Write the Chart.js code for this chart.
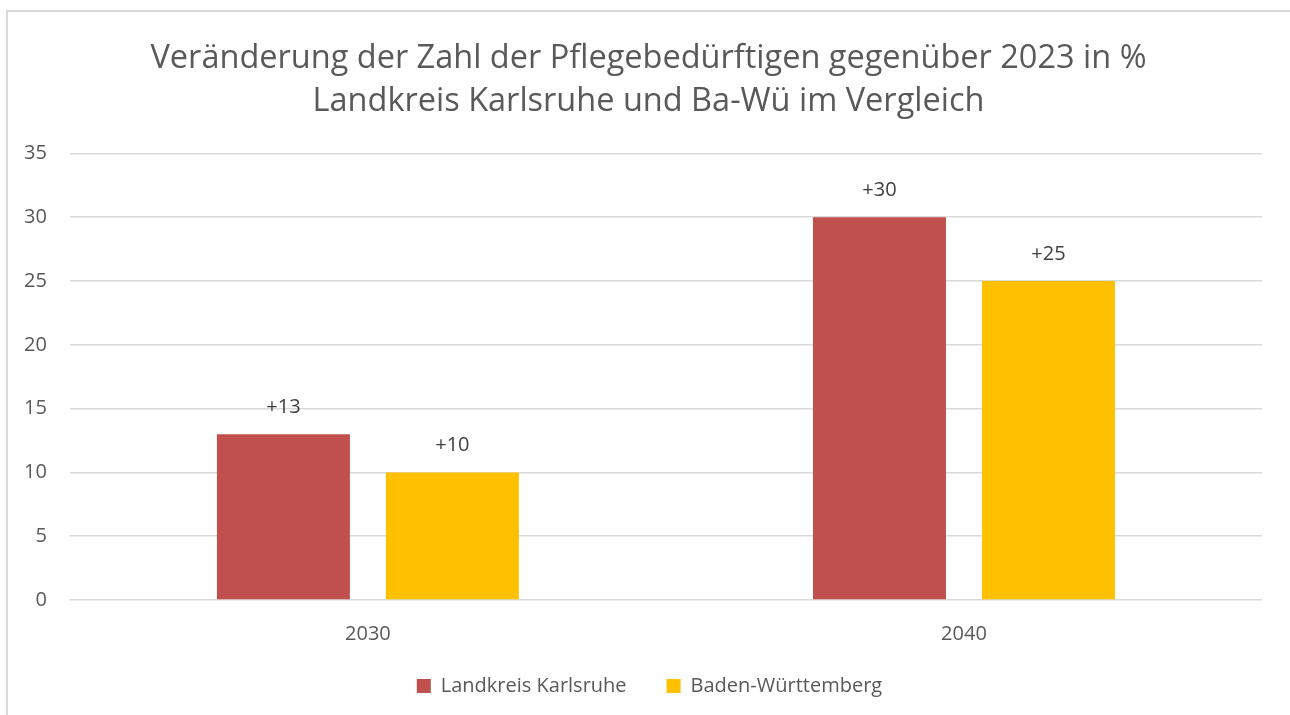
<!DOCTYPE html>
<html>
<head>
<meta charset="utf-8">
<script src="https://cdn.jsdelivr.net/npm/chart.js@4.4.0/dist/chart.umd.min.js"></script>
<style>
  html, body { margin: 0; padding: 0; background: #fff; }
  .frame {
    position: absolute; left: 6px; top: 10px; width: 1300px; height: 720px;
    border-left: 2px solid #d9d9d9; border-top: 2px solid #d9d9d9;
  }
  .wrap { position: absolute; left: 0; top: 0; width: 1290px; height: 715px; }
</style>
</head>
<body>
<div class="frame"></div>
<div class="wrap"><canvas id="pflegeChart" width="1290" height="715"></canvas></div>
<script>
// Daten
const years = ['2030', '2040'];
const karlsruhe = [13, 30];
const bawue = [10, 25];
const titleLines = [
  'Veränderung der Zahl der Pflegebedürftigen gegenüber 2023 in %',
  'Landkreis Karlsruhe und Ba-Wü im Vergleich'
];

const fontFam = '"Open Sans", "Noto Sans", sans-serif';

// Werte über den Balken
const valueLabels = {
  id: 'valueLabels',
  afterDatasetsDraw(chart) {
    const ctx = chart.ctx;
    ctx.save();
    ctx.font = '20px ' + fontFam;
    ctx.fillStyle = '#404040';
    ctx.textAlign = 'center';
    ctx.textBaseline = 'middle';
    chart.data.datasets.forEach((ds, i) => {
      chart.getDatasetMeta(i).data.forEach((bar, j) => {
        ctx.fillText('+' + ds.data[j], bar.x, bar.y - 27);
      });
    });
    ctx.restore();
  }
};

// Titel und Legende auf die ganze Breite zentrieren,
// x-Achse unten wieder freigeben (sonst werden die Jahreszahlen abgeschnitten)
const layoutFix = {
  id: 'layoutFix',
  afterLayout(chart) {
    const t = chart.titleBlock;
    if (t) { t.left += 17; t.right += 17; }
    const l = chart.legend;
    if (l) { l.left += 18; l.right += 18; }
    chart.scales.x.bottom += 28;
  }
};

const chartCtx = document.getElementById('pflegeChart').getContext('2d');
new Chart(chartCtx, {
  type: 'bar',
  data: {
    labels: years,
    datasets: [
      { label: 'Landkreis Karlsruhe', data: karlsruhe, backgroundColor: '#c0504d' },
      { label: 'Baden-Württemberg', data: bawue, backgroundColor: '#ffc000' }
    ]
  },
  options: {
    responsive: false,
    animation: false,
    layout: { padding: { left: 1, right: 28, top: 33, bottom: 9 } },
    datasets: { bar: { categoryPercentage: 0.567, barPercentage: 0.787 } },
    plugins: {
      title: {
        display: true,
        text: titleLines,
        color: '#595959',
        font: { family: fontFam, size: 32.5, weight: 'normal', lineHeight: 1.33 },
        padding: { top: 4, bottom: 30 }
      },
      legend: {
        position: 'bottom',
        labels: {
          color: '#595959',
          font: { family: fontFam, size: 20 },
          boxWidth: 14, boxHeight: 14,
          padding: 40
        }
      },
      tooltip: { enabled: false }
    },
    scales: {
      x: {
        grid: { display: false },
        border: { display: false },
        ticks: { color: '#595959', font: { family: fontFam, size: 20 }, padding: 14 },
        afterFit(scale) { scale.height -= 24; }
      },
      y: {
        beginAtZero: true,
        min: 0, max: 35,
        ticks: { stepSize: 5, color: '#595959', font: { family: fontFam, size: 20 }, padding: 23 },
        grid: { color: '#d9d9d9', lineWidth: 1.5, drawTicks: false },
        border: { display: false }
      }
    }
  },
  plugins: [valueLabels, layoutFix]
});
</script>
</body>
</html>
